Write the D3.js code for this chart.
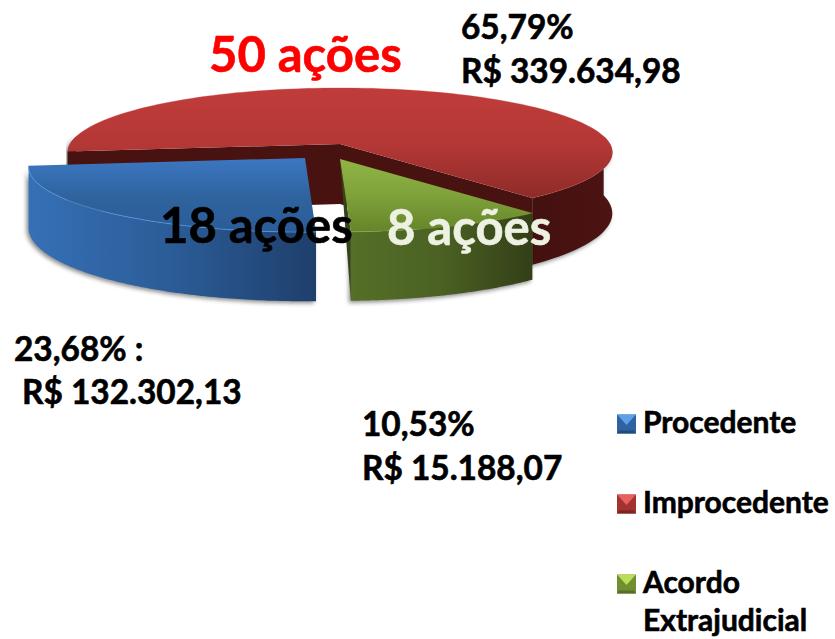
<!DOCTYPE html>
<html>
<head>
<meta charset="utf-8">
<script src="https://cdn.jsdelivr.net/npm/d3@7"></script>
<style>
  html, body { margin: 0; padding: 0; background: #fff; }
  text { font-family: Lato, "Open Sans", sans-serif; font-weight: 700; stroke-width: 0.6px; paint-order: stroke; }
</style>
</head>
<body>
<svg id="svg1" width="835" height="639"></svg>
<script>
var categorias = ["Procedente", "Improcedente", "Acordo Extrajudicial"];
var acoes = [18, 50, 8];
var valores = [132302.13, 339634.98, 15188.07];

var svg = d3.select("#svg1");

var br = d3.formatLocale({decimal: ",", thousands: ".", grouping: [3], currency: ["R$ ", ""]});
var fmtValor = br.format("$,.2f"),
    fmtPct = br.format(".2%");

// perspective pie: near side of the disc is bigger than the far side
var rx = 270, ry = 63.4, k = 0.13, depth = 60;
var estilo = [
  {cx: 305, cy: 158, scale: 1.015, top: "gBlueTop", side: "gBlueSide", face: "#1e3f6b", rim: "#5f97dc", rimOp: 0.7},
  {cx: 340, cy: 144, scale: 1, top: "gRedTop", side: "gRedSide", face: "#481211", rim: "#c9524f", rimOp: 0.3},
  {cx: 340, cy: 159, scale: 1, top: "gGreenTop", side: "gGreenSide", face: "#34441a", rim: "#9cc04f", rimOp: 0.3}
];

function project(a, r, z, s) {
  var u = r * Math.sin(a) * s.scale,
      v = -r * Math.cos(a) * s.scale,
      w = 1 - k * v;
  return [s.cx + rx * u / w, s.cy + (ry * v + depth * z) / w];
}

var pie = d3.pie().sort(null)
    .startAngle(178 * Math.PI / 180)
    .endAngle(538 * Math.PI / 180);
var arcs = pie(acoes);
var line = d3.line();

function arcAngles(d) {
  var n = 120;
  return d3.range(n + 1).map(function(i) {
    return d.startAngle + (d.endAngle - d.startAngle) * i / n;
  });
}

// only the part of the rim turned to the viewer gets a wall
function frontRuns(angles) {
  var runs = [], cur = null;
  angles.forEach(function(a) {
    if (-Math.cos(a) >= -k) {
      if (!cur) { cur = []; runs.push(cur); }
      cur.push(a);
    } else {
      cur = null;
    }
  });
  return runs;
}

// gradients
var defs = svg.append("defs");
function gradient(id, x2, y2, stops) {
  var g = defs.append("linearGradient").attr("id", id)
      .attr("x1", 0).attr("y1", 0).attr("x2", x2).attr("y2", y2);
  stops.forEach(function(c, i) {
    g.append("stop").attr("offset", i / (stops.length - 1)).attr("stop-color", c);
  });
}
gradient("gBlueTop", 0, 1, ["#3c77c2", "#2f649f", "#2a5c98"]);
gradient("gBlueSide", 1, 0, ["#3670b6", "#2b5c97", "#1f3f6c"]);
gradient("gRedTop", 0, 1, ["#c03c3a", "#b53836", "#8e2b29"]);
gradient("gRedSide", 1, 0, ["#431110", "#481211", "#4c1413"]);
gradient("gGreenTop", 0, 1, ["#8fb544", "#7fa23b", "#668429"]);
gradient("gGreenSide", 1, 0, ["#556f27", "#4a6123", "#333f17"]);

var sombra = defs.append("filter").attr("id", "sombra")
    .attr("color-interpolation-filters", "sRGB")
    .attr("x", "-10%").attr("y", "-10%").attr("width", "120%").attr("height", "130%");
sombra.append("feDropShadow").attr("dx", -2).attr("dy", 2)
    .attr("stdDeviation", 2).attr("flood-color", "#000").attr("flood-opacity", 0.45);

// draw order: red at the back, then blue and green
[1, 0, 2].forEach(function(i) {
  var d = arcs[i], s = estilo[i];
  var g = svg.append("g").attr("class", "fatia");
  var angles = arcAngles(d);
  var ptTop = function(a) { return project(a, 1, 0, s); },
      ptBase = function(a) { return project(a, 1, 1, s); };
  var topo = angles.map(ptTop), base = angles.map(ptBase);
  var apex = project(0, 0, 0, s), apexBase = project(0, 0, 1, s);

  frontRuns(angles).forEach(function(run) {
    g.append("path")
        .attr("d", line(run.map(ptTop).concat(run.map(ptBase).reverse())) + "Z")
        .attr("fill", "url(#" + s.side + ")")
        .attr("filter", "url(#sombra)");
  });

  // cut faces, only those turned to the viewer
  if (i == 1) {
    [[topo[0], base[0]], [topo[topo.length - 1], base[base.length - 1]]].forEach(function(e) {
      g.append("path")
          .attr("d", line([apex, e[0], e[1], apexBase]) + "Z")
          .attr("fill", s.face);
    });
  }
  if (i == 2) {
    g.append("path")
        .attr("d", line([apex, topo[topo.length - 1], base[base.length - 1]]) + "Z")
        .attr("fill", s.face);
  }

  g.append("path")
      .attr("d", line([apex].concat(topo)) + "Z")
      .attr("fill", "url(#" + s.top + ")");
  g.append("path")
      .attr("d", line(topo))
      .attr("fill", "none")
      .attr("stroke", s.rim)
      .attr("stroke-opacity", s.rimOp)
      .attr("stroke-width", 1);
});

// labels
function rotulo(x, y, txt, size, cor) {
  return svg.append("text").attr("x", x).attr("y", y)
      .attr("font-size", size).attr("fill", cor || "#000").attr("stroke", cor || "#000").text(txt);
}
rotulo(209, 72, acoes[1] + " ações", 49, "#ff0000");
rotulo(160, 243, acoes[0] + " ações", 49);
rotulo(387, 245, acoes[2] + " ações", 49, "#ecf1e2");

var total = d3.sum(acoes);
rotulo(461, 39, fmtPct(acoes[1] / total), 33.4);
rotulo(461, 83, fmtValor(valores[1]), 33.4);
rotulo(14, 361, fmtPct(acoes[0] / total) + " :", 33.4);
rotulo(22, 404, fmtValor(valores[0]), 33.4);
rotulo(362, 436, fmtPct(acoes[2] / total), 33.4);
rotulo(362, 480, fmtValor(valores[2]), 33.4);

// legend
var legY = d3.scalePoint().domain(categorias).range([424, 584]);
var legCores = [
  ["#2f62a0", "#5ea0e8", "#234a7c"],
  ["#a33331", "#e8615e", "#7b2523"],
  ["#6f8f30", "#bcdc5c", "#566f25"]
];
categorias.forEach(function(c, i) {
  var y = legY(c), size = 19, x = 617, cor = legCores[i];
  var g = svg.append("g").attr("transform", "translate(" + x + "," + (y - size / 2) + ")");
  g.append("rect").attr("width", size).attr("height", size).attr("fill", cor[0]);
  g.append("path").attr("d", line([[0, 0], [size, 0], [size / 2, size * 0.55]]) + "Z").attr("fill", cor[1]);
  g.append("path").attr("d", line([[0, size], [size, size], [size - 2, size - 3], [2, size - 3]]) + "Z").attr("fill", cor[2]);
  var partes = c.split(" ");
  partes.forEach(function(p, j) {
    rotulo(643, y + 9 + j * 38, p, 30);
  });
});
</script>
</body>
</html>
